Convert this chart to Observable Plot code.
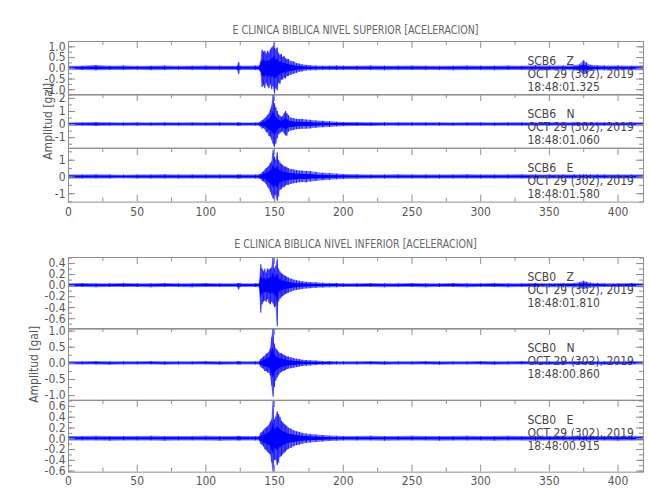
<!DOCTYPE html>
<html><head><meta charset="utf-8">
<script src="https://cdn.jsdelivr.net/npm/d3@7"></script>
<script src="https://cdn.jsdelivr.net/npm/@observablehq/plot@0.6"></script>
<style>
body{margin:0;background:#fff;}
#chart{position:relative;width:650px;height:500px;overflow:hidden;background:#fff;}
#chart svg{position:absolute;left:0;overflow:visible;}
.ttl{position:absolute;left:68px;width:575px;text-align:center;font-size:12px;line-height:14px;font-family:"Liberation Sans Narrow","DejaVu Sans Condensed","Liberation Sans",sans-serif;color:#666;white-space:pre;transform:scaleX(0.88);transform-origin:50% 50%;}
</style></head><body><div id="chart"></div>
<script>
// ---------- data (seconds, gal) : envelope of each trace ----------
const titles = ["E CLINICA BIBLICA NIVEL SUPERIOR [ACELERACION]", "E CLINICA BIBLICA NIVEL INFERIOR [ACELERACION]"];
const yTitle = "Amplitud [gal]";
const stations = ["SCB6   Z", "SCB6   N", "SCB6   E", "SCB0   Z", "SCB0   N", "SCB0   E"];
const dateLabel = "OCT 29 (302), 2019";
const startTimes = ["18:48:01.325", "18:48:01.060", "18:48:01.580", "18:48:01.810", "18:48:00.860", "18:48:00.915"];
const xTicks = [0, 50, 100, 150, 200, 250, 300, 350, 400];
const xMinor = [25, 75, 125, 175, 225, 275, 325, 375];

const time = [0,10,20,30,40,50,60,70,80,90,100,110, 123,124,125,136,139,
  140,141,142,143,144,145,146,147,148,149,150,151,152,153,154,155,156,157,158,159,160,
  162,164,166,168,170,173,176,180,185,190,195,200,
  210,220,230,240,250,260,270,280,290,300,310,320,330,340,350,360,
  368,372,375,377,380,385,390, 400,410,418];

const scb6Z_hi = [0.09,0.1,0.13,0.1,0.11,0.09,0.1,0.11,0.09,0.1,0.11,0.1, 0.1,0.28,0.1,0.11,0.12,
  0.3,0.85,0.75,0.8,0.65,0.8,0.7,0.85,0.95,1.0,1.3,0.85,0.95,0.7,0.6,0.65,0.5,0.55,0.45,0.4,0.42,
  0.32,0.3,0.22,0.2,0.16,0.14,0.12,0.11,0.1,0.1,0.11,0.1,
  0.1,0.11,0.1,0.1,0.11,0.1,0.09,0.1,0.11,0.1,0.1,0.11,0.1,0.12,0.11,0.11,
  0.12,0.15,0.35,0.25,0.14,0.12,0.11, 0.11,0.1,0.11];
const scb6Z_lo = [-0.09,-0.1,-0.12,-0.1,-0.1,-0.09,-0.11,-0.1,-0.09,-0.1,-0.1,-0.1, -0.1,-0.3,-0.1,-0.1,-0.12,
  -0.2,-0.9,-0.8,-0.95,-0.7,-0.85,-0.95,-0.75,-1.0,-0.85,-1.2,-0.95,-1.05,-0.7,-0.75,-0.55,-0.55,-0.45,-0.5,-0.4,-0.38,
  -0.33,-0.28,-0.24,-0.18,-0.17,-0.13,-0.12,-0.11,-0.1,-0.1,-0.1,-0.1,
  -0.1,-0.1,-0.11,-0.1,-0.1,-0.1,-0.1,-0.11,-0.1,-0.1,-0.11,-0.1,-0.1,-0.11,-0.11,-0.11,
  -0.12,-0.15,-0.3,-0.28,-0.15,-0.12,-0.11, -0.11,-0.1,-0.11];

const scb6N_hi = [0.12,0.13,0.15,0.13,0.12,0.13,0.12,0.13,0.12,0.13,0.12,0.13, 0.12,0.14,0.12,0.12,0.13,
  0.2,0.3,0.35,0.45,0.55,0.7,0.8,1.1,1.4,2.3,1.6,1.3,1.0,0.75,0.65,0.55,0.6,0.8,1.0,0.85,0.7,
  0.5,0.45,0.4,0.38,0.4,0.35,0.33,0.28,0.25,0.22,0.18,0.16,
  0.15,0.14,0.13,0.13,0.14,0.13,0.13,0.12,0.13,0.13,0.12,0.13,0.13,0.12,0.13,0.13,
  0.13,0.12,0.13,0.13,0.12,0.13,0.13, 0.12,0.13,0.13];
const scb6N_lo = [-0.12,-0.13,-0.14,-0.13,-0.12,-0.13,-0.12,-0.13,-0.12,-0.12,-0.12,-0.13, -0.12,-0.13,-0.12,-0.12,-0.13,
  -0.2,-0.35,-0.3,-0.4,-0.6,-0.65,-0.9,-0.95,-1.2,-1.5,-1.75,-1.5,-1.1,-0.8,-0.7,-0.6,-0.55,-0.7,-0.85,-0.9,-0.6,
  -0.5,-0.45,-0.4,-0.38,-0.35,-0.35,-0.33,-0.28,-0.25,-0.22,-0.18,-0.16,
  -0.14,-0.14,-0.13,-0.13,-0.13,-0.13,-0.12,-0.13,-0.13,-0.12,-0.13,-0.13,-0.12,-0.13,-0.13,-0.12,
  -0.13,-0.13,-0.12,-0.13,-0.13,-0.12,-0.13, -0.13,-0.12,-0.13];

const scb6E_hi = [0.12,0.12,0.13,0.12,0.11,0.12,0.12,0.13,0.12,0.12,0.12,0.12, 0.12,0.12,0.12,0.12,0.13,
  0.15,0.25,0.3,0.4,0.5,0.55,0.65,0.8,0.9,1.6,1.2,1.0,1.45,1.0,0.85,0.75,0.7,0.6,0.6,0.55,0.5,
  0.45,0.42,0.38,0.35,0.35,0.33,0.32,0.27,0.22,0.2,0.17,0.15,
  0.13,0.12,0.12,0.13,0.12,0.12,0.12,0.12,0.13,0.12,0.12,0.12,0.13,0.12,0.12,0.12,
  0.12,0.12,0.13,0.12,0.12,0.12,0.12, 0.12,0.12,0.12];
const scb6E_lo = [-0.12,-0.12,-0.12,-0.12,-0.11,-0.12,-0.12,-0.12,-0.12,-0.12,-0.12,-0.12, -0.12,-0.12,-0.12,-0.12,-0.13,
  -0.15,-0.25,-0.3,-0.35,-0.45,-0.6,-0.7,-0.9,-1.1,-1.3,-1.4,-1.1,-1.45,-1.2,-0.8,-0.75,-0.65,-0.65,-0.55,-0.5,-0.5,
  -0.45,-0.4,-0.38,-0.35,-0.33,-0.35,-0.3,-0.27,-0.22,-0.2,-0.17,-0.15,
  -0.13,-0.12,-0.12,-0.12,-0.12,-0.12,-0.12,-0.12,-0.12,-0.12,-0.12,-0.12,-0.12,-0.12,-0.12,-0.12,
  -0.12,-0.12,-0.12,-0.12,-0.12,-0.12,-0.12, -0.12,-0.12,-0.12];

const scb0Z_hi = [0.035,0.04,0.035,0.035,0.04,0.035,0.035,0.04,0.035,0.035,0.04,0.035, 0.035,0.04,0.035,0.035,0.04,
  0.38,0.3,0.25,0.3,0.22,0.3,0.28,0.3,0.32,0.55,0.3,0.35,0.48,0.3,0.25,0.22,0.2,0.18,0.17,0.15,0.14,
  0.12,0.1,0.09,0.08,0.07,0.06,0.055,0.05,0.045,0.04,0.04,0.035,
  0.035,0.04,0.035,0.035,0.04,0.035,0.035,0.04,0.035,0.035,0.04,0.035,0.035,0.04,0.035,0.04,
  0.04,0.05,0.08,0.06,0.045,0.04,0.035, 0.035,0.04,0.035];
const scb0Z_lo = [-0.035,-0.035,-0.04,-0.035,-0.035,-0.035,-0.04,-0.035,-0.035,-0.04,-0.035,-0.035, -0.035,-0.08,-0.035,-0.035,-0.04,
  -0.5,-0.35,-0.3,-0.28,-0.3,-0.25,-0.32,-0.35,-0.3,-0.33,-0.4,-0.38,-0.75,-0.3,-0.25,-0.22,-0.2,-0.18,-0.16,-0.15,-0.14,
  -0.12,-0.1,-0.09,-0.08,-0.07,-0.06,-0.055,-0.05,-0.045,-0.04,-0.04,-0.035,
  -0.035,-0.035,-0.04,-0.035,-0.035,-0.04,-0.035,-0.035,-0.04,-0.035,-0.035,-0.04,-0.035,-0.035,-0.04,-0.04,
  -0.04,-0.05,-0.07,-0.06,-0.045,-0.04,-0.035, -0.035,-0.035,-0.04];

const scb0N_hi = [0.05,0.05,0.055,0.05,0.05,0.05,0.055,0.05,0.05,0.05,0.055,0.05, 0.05,0.055,0.05,0.05,0.05,
  0.12,0.15,0.2,0.22,0.28,0.3,0.35,0.45,0.8,1.1,0.6,0.45,0.4,0.35,0.3,0.3,0.27,0.25,0.22,0.2,0.2,
  0.17,0.15,0.13,0.12,0.1,0.09,0.08,0.07,0.06,0.055,0.05,0.05,
  0.05,0.055,0.05,0.05,0.05,0.055,0.05,0.05,0.05,0.055,0.05,0.05,0.055,0.05,0.05,0.05,
  0.05,0.055,0.05,0.05,0.055,0.05,0.05, 0.05,0.055,0.05];
const scb0N_lo = [-0.05,-0.05,-0.05,-0.055,-0.05,-0.05,-0.05,-0.055,-0.05,-0.05,-0.05,-0.055, -0.05,-0.05,-0.05,-0.05,-0.05,
  -0.12,-0.15,-0.18,-0.25,-0.25,-0.3,-0.3,-0.4,-0.7,-1.05,-0.75,-0.55,-0.45,-0.38,-0.32,-0.28,-0.25,-0.25,-0.22,-0.2,-0.18,
  -0.17,-0.15,-0.13,-0.12,-0.1,-0.09,-0.08,-0.07,-0.06,-0.055,-0.05,-0.05,
  -0.05,-0.05,-0.055,-0.05,-0.05,-0.05,-0.055,-0.05,-0.05,-0.05,-0.055,-0.05,-0.05,-0.05,-0.055,-0.05,
  -0.05,-0.05,-0.055,-0.05,-0.05,-0.05,-0.055, -0.05,-0.05,-0.05];

const scb0E_hi = [0.04,0.04,0.045,0.04,0.04,0.04,0.045,0.04,0.04,0.04,0.045,0.04, 0.04,0.045,0.04,0.04,0.04,
  0.1,0.12,0.15,0.18,0.2,0.22,0.25,0.3,0.35,0.7,0.35,0.4,0.5,0.45,0.4,0.33,0.3,0.27,0.25,0.23,0.2,
  0.18,0.15,0.13,0.12,0.1,0.09,0.08,0.07,0.06,0.05,0.045,0.04,
  0.04,0.045,0.04,0.04,0.045,0.04,0.04,0.04,0.045,0.04,0.04,0.045,0.04,0.04,0.04,0.045,
  0.04,0.045,0.04,0.04,0.045,0.04,0.04, 0.04,0.045,0.04];
const scb0E_lo = [-0.04,-0.04,-0.04,-0.045,-0.04,-0.04,-0.04,-0.045,-0.04,-0.04,-0.04,-0.045, -0.04,-0.04,-0.04,-0.04,-0.04,
  -0.1,-0.12,-0.15,-0.2,-0.22,-0.25,-0.28,-0.3,-0.45,-0.63,-0.4,-0.4,-0.5,-0.45,-0.35,-0.33,-0.3,-0.27,-0.25,-0.22,-0.2,
  -0.18,-0.15,-0.13,-0.12,-0.1,-0.09,-0.08,-0.07,-0.06,-0.05,-0.045,-0.04,
  -0.04,-0.04,-0.045,-0.04,-0.04,-0.04,-0.045,-0.04,-0.04,-0.04,-0.045,-0.04,-0.04,-0.045,-0.04,-0.04,
  -0.045,-0.04,-0.04,-0.045,-0.04,-0.04,-0.04, -0.045,-0.04,-0.04];

// y-axis tick values and labels per panel
const yTicks = [[-1, -0.5, 0, 0.5, 1], [-1, 0, 1, 2], [-1, 0, 1], [-0.6, -0.4, -0.2, 0, 0.2, 0.4], [-1, -0.5, 0, 0.5, 1], [-0.6, -0.4, -0.2, 0, 0.2, 0.4, 0.6]];
const yLabelDigits = [1, 0, 0, 1, 1, 1];
const yMinorStep = [0.25, 0.5, 0.5, 0.1, 0.25, 0.1];
const yDomains = [[-1.25, 1.25], [-1.8, 2.3], [-1.5, 1.7], [-0.79, 0.51], [-1.14, 1.08], [-0.62, 0.71]];

// ---------- drawing ----------
const traces = [[scb6Z_hi, scb6Z_lo], [scb6N_hi, scb6N_lo], [scb6E_hi, scb6E_lo], [scb0Z_hi, scb0Z_lo], [scb0N_hi, scb0N_lo], [scb0E_hi, scb0E_lo]];
const FONT = '"Liberation Sans Narrow","DejaVu Sans Condensed","Liberation Sans",sans-serif';
const GRAY = "#8f8f8f";
const XMAX = 418.5;
const blocks = [{top: 40.7, h: 53.6, titleTop: 23}, {top: 256.7, h: 71.67, titleTop: 237}];
const root = document.getElementById("chart");

blocks.forEach((b, bi) => {
  const t = document.createElement("div");
  t.className = "ttl"; t.style.top = b.titleTop + "px"; t.textContent = titles[bi];
  root.appendChild(t);
  for (let k = 0; k < 3; k++) {
    const i = bi * 3 + k;
    const top = b.top + k * b.h, h = b.h, mt = 20, mb = 20, last = k === 2;
    const [y0, y1] = yDomains[i];
    const dX = XMAX / 575, dY = (y1 - y0) / h;
    const data = time.map((tt, j) => ({t: tt, hi: traces[i][0][j], lo: traces[i][1][j]}));
    const minor = d3.range(Math.ceil(y0 / yMinorStep[i]) , Math.floor(y1 / yMinorStep[i]) + 1).map(v => +(v * yMinorStep[i]).toFixed(3));
    const fmt = d => (d < 0 ? "-" : "") + Math.abs(d).toFixed(yLabelDigits[i]);
    const marks = [
      Plot.areaY(data, {x: "t", y1: "lo", y2: "hi", fill: "#0000ff", fillOpacity: 0.55, clip: true}),
      Plot.ruleX(data, {x: "t", y1: "lo", y2: "hi", stroke: "#0000ff", strokeWidth: 0.8, clip: true}),
      Plot.areaY(data, {x: "t", y1: d => d.lo * 0.45, y2: d => d.hi * 0.45, fill: "#0000ff", clip: true}),
      Plot.frame({stroke: GRAY}),
      // y ticks, left and right
      Plot.ruleY(yTicks[i], {x1: 0, x2: 7 * dX, stroke: GRAY}),
      Plot.ruleY(yTicks[i], {x1: XMAX - 7 * dX, x2: XMAX, stroke: GRAY}),
      Plot.ruleY(minor, {x1: 0, x2: 4 * dX, stroke: GRAY}),
      Plot.ruleY(minor, {x1: XMAX - 4 * dX, x2: XMAX, stroke: GRAY}),
      Plot.text(yTicks[i], {x: 0, y: d => d, text: fmt, textAnchor: "end", dx: -3, fill: "#555"}),
      // x ticks at top edge
      Plot.ruleX(xTicks.slice(1), {x: d => d, y1: y1, y2: y1 - 7 * dY, stroke: GRAY}),
      Plot.ruleX(xMinor, {x: d => d, y1: y1, y2: y1 - 4 * dY, stroke: GRAY}),
      Plot.text([[stations[i], dateLabel, startTimes[i]].join("\n")], {frameAnchor: "top-left", textAnchor: "start", lineAnchor: "top", dx: 459, dy: 15, lineHeight: 1.05, fill: "#444"})
    ];
    if (last) {
      marks.push(
        Plot.ruleX(xTicks.slice(1), {x: d => d, y1: y0, y2: y0 + 7 * dY, stroke: GRAY}),
        Plot.ruleX(xMinor, {x: d => d, y1: y0, y2: y0 + 4 * dY, stroke: GRAY}),
        Plot.text(xTicks, {x: d => d, y: y0, text: d => String(d), dy: bi === 0 ? 10 : 9, fill: "#555"})
      );
    }
    if (k === 1) {
      marks.push(Plot.text([yTitle], {frameAnchor: "left", textAnchor: "middle", rotate: -90, dx: bi === 0 ? -20.5 : -34.5, fill: "#555"}));
    }
    const svg = Plot.plot({
      width: 650, height: h + mt + mb,
      marginLeft: 68, marginRight: 7, marginTop: mt, marginBottom: mb,
      x: {domain: [0, XMAX], axis: null},
      y: {domain: [y0, y1], axis: null},
      style: {background: "transparent", overflow: "visible", fontFamily: FONT, fontSize: "12px", color: "#555"},
      marks
    });
    svg.style.top = (top - mt) + "px";
    root.appendChild(svg);
  }
});
</script></body></html>
